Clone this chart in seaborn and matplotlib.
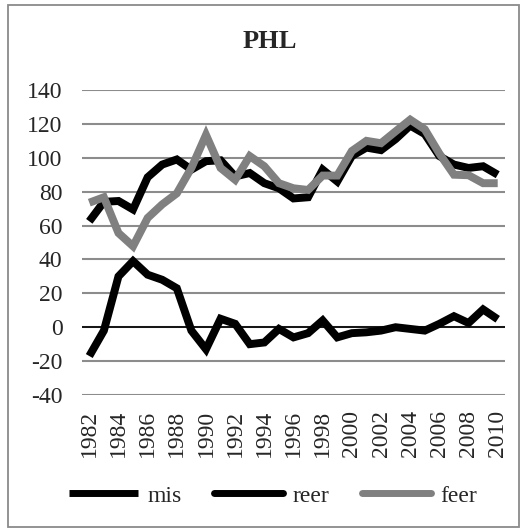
import numpy as np
import pandas as pd
import matplotlib
matplotlib.use("Agg")
import matplotlib.pyplot as plt
from matplotlib.lines import Line2D
from matplotlib.patches import Rectangle
import seaborn as sns

years = list(range(1982, 2011))
mis = [-17, -2, 30, 39, 31, 28, 23, -2, -13, 5, 2, -10, -9, -1, -6, -3.5, 4, -6, -3.5,
       -3, -2, 0, -1, -2, 2, 6.5, 2.5, 10.5, 4.7]
reer = [62.5, 74, 74.5, 69.5, 88.5, 96, 99, 93, 98, 98.5, 89, 91, 85, 82, 76, 76.7, 93,
        86, 101, 106, 104.5, 111, 119, 114, 101, 96, 94, 95, 90]
feer = [73.5, 76.7, 55.6, 47.8, 64.5, 72.5, 79, 94, 113.5, 94, 87, 101, 95, 85, 82, 81,
        89.5, 89.5, 104, 110, 108.6, 115.6, 122.5, 116.8, 102.5, 90, 89.7, 85, 85]
series_names = ["mis", "reer", "feer"]
series_colors = ["#000000", "#000000", "#808080"]
yticks = [-40, -20, 0, 20, 40, 60, 80, 100, 120, 140]
xticks = list(range(1982, 2011, 2))
title = "PHL"

df = pd.DataFrame({"year": years * 3,
                   "value": mis + reer + feer,
                   "series": sum([[n] * len(years) for n in series_names], [])})

sns.set_style("white")
plt.rcParams["font.family"] = ["Liberation Serif", "DejaVu Serif"]

W, H = 527, 531
fig = plt.figure(figsize=(W / 100, H / 100), dpi=100)
ax = fig.add_axes([82 / W, 1 - 395 / H, (505 - 82) / W, (395 - 90) / H])

# figure border
fig.patches.append(Rectangle((8 / W, 1 - 527 / H), (519 - 8) / W, (527 - 5) / H,
                             transform=fig.transFigure, fill=False,
                             edgecolor="#8a8a8a", lw=1.3))

sns.lineplot(data=df, x="year", y="value", hue="series", hue_order=series_names,
             palette=dict(zip(series_names, series_colors)), lw=5.7, ax=ax,
             legend=False, sort=False)
for ln in ax.get_lines():
    ln.set_solid_joinstyle("miter")
    ln.set_solid_capstyle("butt")

FS = 17
ax.set_ylim(-40, 140)
ax.set_xlim(1981.5, 2010.5)
ax.set_yticks(yticks)
ax.set_xticks(xticks)
ax.set_xticklabels([str(x) for x in xticks], rotation=90, fontsize=FS)
ax.set_yticklabels([str(y) for y in yticks], fontsize=FS)
ax.tick_params(axis="y", length=0, pad=14)
ax.tick_params(axis="x", length=0, pad=10.5)
ax.grid(axis="y", color="#8c8c8c", lw=1.5)
ax.grid(axis="x", visible=False)
ax.set_axisbelow(True)
ax.axhline(0, color="black", lw=1.2, zorder=1.5)
for s in ax.spines.values():
    s.set_visible(False)
ax.set_xlabel("")
ax.set_ylabel("")

fig.text(270 / W, 1 - 42 / H, title, ha="center", va="center",
         fontsize=19, fontweight="bold")

caps = ["butt", "round", "round"]
handles = [Line2D([0], [0], color=c, lw=5.0, solid_capstyle=cp)
           for c, cp in zip(series_colors, caps)]
leg = fig.legend(handles, series_names, loc="center", bbox_to_anchor=(273 / W, 1 - 496 / H),
                 ncol=3, frameon=False, fontsize=FS, handlelength=2.9,
                 handletextpad=0.4, columnspacing=1.4, borderaxespad=0, borderpad=0)

fig.savefig("out.png", dpi=100)
